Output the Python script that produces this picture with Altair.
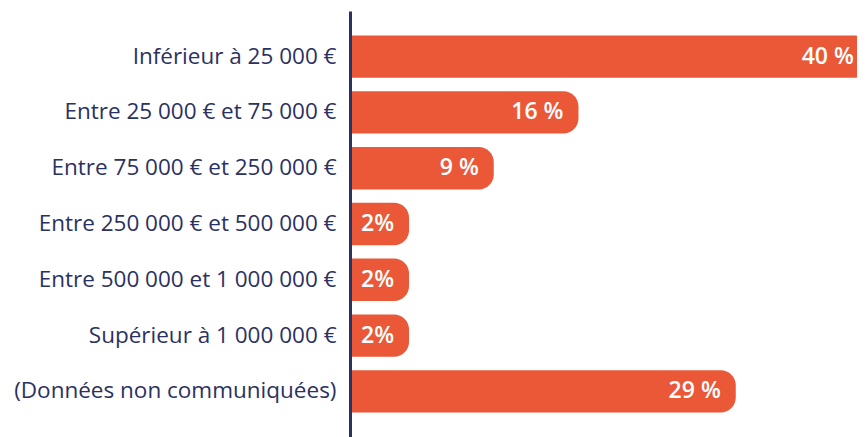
import altair as alt
import pandas as pd

categories = [
    "Inférieur à 25 000 €",
    "Entre 25 000 € et 75 000 €",
    "Entre 75 000 € et 250 000 €",
    "Entre 250 000 € et 500 000 €",
    "Entre 500 000 et 1 000 000 €",
    "Supérieur à 1 000 000 €",
    "(Données non communiquées)",
]
values = [40, 16, 9, 2, 2, 2, 29]
labels = ["40 %", "16 %", "9 %", "2%", "2%", "2%", "29 %"]

df = pd.DataFrame({"cat": categories, "v": values, "lab": labels})

FONT = "Open Sans"
NAVY = "#2b3161"
ORANGE = "#ea5838"

y = alt.Y(
    "cat:N",
    sort=categories,
    title=None,
    scale=alt.Scale(paddingInner=0.24, paddingOuter=0.437),
    axis=alt.Axis(
        ticks=False,
        domainColor=NAVY,
        domainWidth=3,
        labelColor=NAVY,
        labelFont=FONT,
        labelFontSize=22.5,
        labelPadding=14,
        labelLimit=400,
        zindex=1,
    ),
)
xs = alt.Scale(domain=[-2.88, 39.02])

bars = alt.Chart(df).mark_bar(
    color=ORANGE, cornerRadiusTopRight=15, cornerRadiusBottomRight=15
).encode(
    y=y,
    x=alt.X("v:Q", scale=xs, axis=None, stack=None),
    x2=alt.value(0),
)

text = alt.Chart(df).mark_text(
    align="right", baseline="middle", dx=-15, color="white",
    font=FONT, fontSize=23, fontWeight=600
).encode(
    y=alt.Y("cat:N", sort=categories),
    x=alt.X("v:Q", scale=xs, axis=None, stack=None),
    text="lab:N",
)

chart = (
    alt.layer(bars, text)
    .properties(
        width=507, height=426, background="white",
        padding={"top": 3, "bottom": 0, "left": 342, "right": 0},
        autosize=alt.AutoSizeParams(type="none"),
    )
    .configure_view(strokeWidth=0, stroke="transparent")
)

chart.save("out.html", embed_options={"renderer": "svg", "actions": False})
